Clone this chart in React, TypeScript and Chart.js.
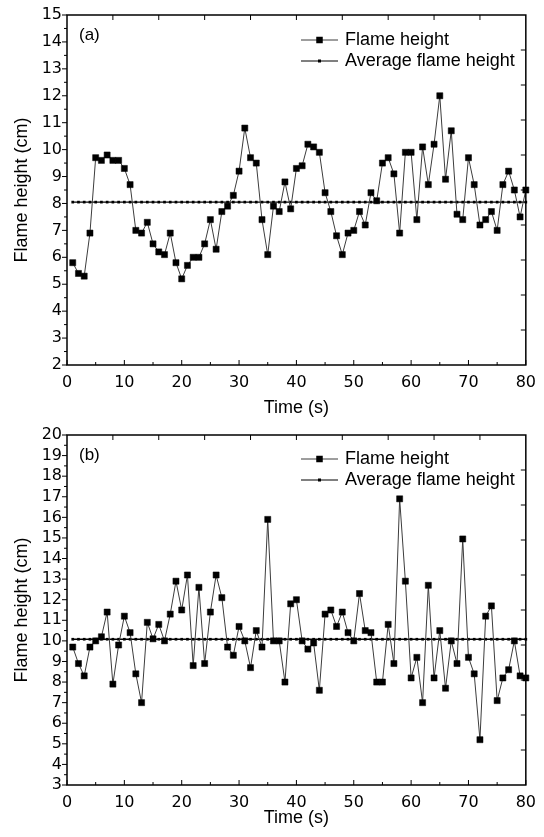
import React, { useEffect, useRef } from 'react';
import { Chart, registerables } from 'chart.js';

Chart.register(...registerables);

// ---- Data ----
const timeSeconds = [
  1, 2, 3, 4, 5, 6, 7, 8, 9, 10, 11, 12, 13, 14, 15, 16, 17, 18, 19, 20,
  21, 22, 23, 24, 25, 26, 27, 28, 29, 30, 31, 32, 33, 34, 35, 36, 37, 38, 39, 40,
  41, 42, 43, 44, 45, 46, 47, 48, 49, 50, 51, 52, 53, 54, 55, 56, 57, 58, 59, 60,
  61, 62, 63, 64, 65, 66, 67, 68, 69, 70, 71, 72, 73, 74, 75, 76, 77, 78, 79, 80,
];

const flameHeightA = [
  5.8, 5.4, 5.3, 6.9, 9.7, 9.6, 9.8, 9.6, 9.6, 9.3,
  8.7, 7.0, 6.9, 7.3, 6.5, 6.2, 6.1, 6.9, 5.8, 5.2,
  5.7, 6.0, 6.0, 6.5, 7.4, 6.3, 7.7, 7.9, 8.3, 9.2,
  10.8, 9.7, 9.5, 7.4, 6.1, 7.9, 7.7, 8.8, 7.8, 9.3,
  9.4, 10.2, 10.1, 9.9, 8.4, 7.7, 6.8, 6.1, 6.9, 7.0,
  7.7, 7.2, 8.4, 8.1, 9.5, 9.7, 9.1, 6.9, 9.9, 9.9,
  7.4, 10.1, 8.7, 10.2, 12.0, 8.9, 10.7, 7.6, 7.4, 9.7,
  8.7, 7.2, 7.4, 7.7, 7.0, 8.7, 9.2, 8.5, 7.5, 8.5,
];

const flameHeightB = [
  9.7, 8.9, 8.3, 9.7, 10.0, 10.2, 11.4, 7.9, 9.8, 11.2,
  10.4, 8.4, 7.0, 10.9, 10.1, 10.8, 10.0, 11.3, 12.9, 11.5,
  13.2, 8.8, 12.6, 8.9, 11.4, 13.2, 12.1, 9.7, 9.3, 10.7,
  10.0, 8.7, 10.5, 9.7, 15.9, 10.0, 10.0, 8.0, 11.8, 12.0,
  10.0, 9.6, 9.9, 7.6, 11.3, 11.5, 10.7, 11.4, 10.4, 10.0,
  12.3, 10.5, 10.4, 8.0, 8.0, 10.8, 8.9, 16.9, 12.9, 8.2,
  9.2, 7.0, 12.7, 8.2, 10.5, 7.7, 10.0, 8.9, 14.95, 9.2,
  8.4, 5.2, 11.2, 11.7, 7.1, 8.2, 8.6, 10.0, 8.3, 8.2,
];

const averageFlameHeightA = 8.05;
const averageFlameHeightB = 10.08;

const seriesLabels = ['Flame height', 'Average flame height'];
const panelLabels = ['(a)', '(b)'];
const xTitle = 'Time (s)';
const yTitle = 'Flame height (cm)';

const TICK_FONT = "'DejaVu Sans', sans-serif";
const TEXT_FONT = "'Liberation Sans', Arial, sans-serif";

// ---- Decoration plugin (frame, ticks, legend, panel label) ----
const decorPlugin = {
  id: 'decor',
  afterDatasetsDraw(chart: any, _args: any, opts: any) {
    const { ctx, chartArea } = chart;
    const { left, right, top, bottom } = chartArea;
    const xs = chart.scales.x;
    const ys = chart.scales.y;
    const seg = (x1: number, y1: number, x2: number, y2: number) => {
      ctx.beginPath();
      ctx.moveTo(x1, y1);
      ctx.lineTo(x2, y2);
      ctx.stroke();
    };
    ctx.save();
    ctx.strokeStyle = '#000';
    ctx.lineWidth = 1.5;
    ctx.strokeRect(left, top, right - left, bottom - top);
    ctx.lineWidth = 1;
    // left ticks (outward)
    for (let v = ys.min; v <= ys.max + 1e-9; v += 0.5) {
      const py = ys.getPixelForValue(v);
      const major = Math.abs(v - Math.round(v)) < 1e-6;
      seg(left - (major ? 5 : 3), py, left, py);
    }
    // bottom ticks (inward)
    for (let v = xs.min; v <= xs.max + 1e-9; v += 5) {
      const px = xs.getPixelForValue(v);
      const major = v % 10 === 0;
      seg(px, bottom, px, bottom - (major ? 5 : 3));
    }
    // top and right ticks (inward, 10 divisions)
    for (let i = 1; i < 10; i++) {
      const px = left + ((right - left) * i) / 10;
      seg(px, top, px, top + 5);
      const py = top + ((bottom - top) * i) / 10;
      seg(right, py, right - 5, py);
    }
    // panel label
    ctx.fillStyle = '#000';
    ctx.font = `17px ${TEXT_FONT}`;
    ctx.textAlign = 'left';
    ctx.textBaseline = 'middle';
    ctx.fillText(opts.label, opts.labelX, opts.labelY);
    // legend
    chart.data.datasets.forEach((ds: any, i: number) => {
      const y = opts.legendY + i * opts.legendGap;
      ctx.strokeStyle = ds.borderColor;
      ctx.lineWidth = 1;
      seg(opts.legendX1, y, opts.legendX2, y);
      const cx = (opts.legendX1 + opts.legendX2) / 2;
      const s = i === 0 ? 6.5 : 3;
      ctx.fillStyle = '#000';
      ctx.fillRect(cx - s / 2, y - s / 2, s, s);
      ctx.font = `18px ${TEXT_FONT}`;
      ctx.fillText(ds.label, opts.legendX2 + 7, y);
    });
    ctx.restore();
  },
};

function makeConfig(
  values: number[],
  avg: number,
  yMin: number,
  yMax: number,
  panel: number,
  padTop: number,
  xAxisHeight: number,
  titleBottom: number,
  legendY: number,
  labelY: number,
) {
  return {
    type: 'line',
    data: {
      datasets: [
        {
          label: seriesLabels[0],
          data: timeSeconds.map((t, i) => ({ x: t, y: values[i] })),
          borderColor: '#3c3c3c',
          borderWidth: 1,
          pointStyle: 'rect',
          pointRadius: 4.3,
          pointBackgroundColor: '#000',
          pointBorderColor: '#000',
          pointBorderWidth: 0.5,
          tension: 0,
          clip: false,
        },
        {
          label: seriesLabels[1],
          data: timeSeconds.map((t) => ({ x: t, y: avg })),
          borderColor: '#000',
          borderWidth: 1.3,
          pointStyle: 'rect',
          pointRadius: 1.9,
          pointBackgroundColor: '#000',
          pointBorderColor: '#000',
          pointBorderWidth: 0,
          tension: 0,
          clip: false,
        },
      ],
    },
    options: {
      responsive: false,
      animation: false,
      devicePixelRatio: 1,
      events: [],
      layout: { padding: { top: padTop, right: 16, left: 0, bottom: 0 } },
      plugins: {
        legend: { display: false },
        tooltip: { enabled: false },
        decor: {
          label: panelLabels[panel],
          labelX: 79,
          labelY,
          legendX1: 301,
          legendX2: 338,
          legendY,
          legendGap: 21,
        },
      },
      scales: {
        x: {
          type: 'linear',
          min: 0,
          max: 80,
          ticks: {
            stepSize: 10,
            color: '#000',
            font: { family: TICK_FONT, size: 16 },
            padding: 8,
            maxRotation: 0,
            autoSkip: false,
          },
          grid: { display: false, drawTicks: false },
          border: { display: false },
          title: {
            display: true,
            text: xTitle,
            color: '#000',
            font: { family: TEXT_FONT, size: 18, lineHeight: 1 },
            padding: { top: 0, bottom: titleBottom },
          },
          afterFit: (s: any) => {
            s.height = xAxisHeight;
          },
        },
        y: {
          type: 'linear',
          min: yMin,
          max: yMax,
          ticks: {
            stepSize: 1,
            color: '#000',
            font: { family: TICK_FONT, size: 16 },
            padding: 5,
            autoSkip: false,
          },
          grid: { display: false, drawTicks: false },
          border: { display: false },
          title: {
            display: true,
            text: yTitle,
            color: '#000',
            font: { family: TEXT_FONT, size: 18, lineHeight: 1 },
            padding: { top: 13.5, bottom: 0 },
          },
          afterFit: (s: any) => {
            s.width = 67;
          },
        },
      },
    },
    plugins: [decorPlugin],
  } as any;
}

export default function App() {
  const refA = useRef<HTMLCanvasElement | null>(null);
  const refB = useRef<HTMLCanvasElement | null>(null);

  useEffect(() => {
    const chartA = new Chart(
      refA.current as HTMLCanvasElement,
      makeConfig(flameHeightA, averageFlameHeightA, 2, 15, 0, 15, 53, 1, 40, 35),
    );
    const chartB = new Chart(
      refB.current as HTMLCanvasElement,
      makeConfig(flameHeightB, averageFlameHeightB, 3, 20, 1, 17, 52, 10, 41, 37),
    );
    return () => {
      chartA.destroy();
      chartB.destroy();
    };
  }, []);

  return (
    <div
      style={{
        position: 'fixed',
        left: 0,
        top: 0,
        width: 544,
        height: 837,
        background: '#fff',
      }}
    >
      <canvas
        ref={refA}
        width={544}
        height={418}
        style={{ position: 'absolute', left: 0, top: 0, width: 544, height: 418 }}
      />
      <canvas
        ref={refB}
        width={544}
        height={419}
        style={{ position: 'absolute', left: 0, top: 418, width: 544, height: 419 }}
      />
    </div>
  );
}
